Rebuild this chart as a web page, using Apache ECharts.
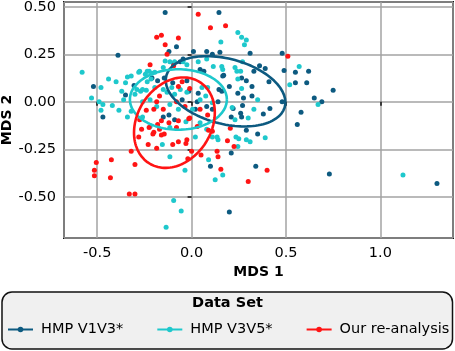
<!DOCTYPE html>
<html><head><meta charset="utf-8">
<script src="https://cdn.jsdelivr.net/npm/echarts@6/dist/echarts.min.js"></script>
<style>html,body{margin:0;padding:0;background:#fff}#c{width:455px;height:351px}</style>
</head><body><div id="c"></div>
<script>
const seriesNames = ['HMP V1V3*', 'HMP V3V5*', 'Our re-analysis'];
const xTicks = [-0.5, 0, 0.5, 1.0];
const yTicks = [-0.5, -0.25, 0, 0.25, 0.5];
const xLabels = ['-0.5', '0.0', '0.5', '1.0'];
const yLabels = ['-0.50', '-0.25', '0.00', '0.25', '0.50'];

const v1v3Points = [
[-0.14,0.47],[0.145,0.47],[-0.39,0.245],[-0.52,0.08],[-0.47,-0.08],[-0.35,0.035],[-0.305,0.085],[-0.21,0.125],
[-0.145,0.125],[-0.10,0.10],[-0.08,0.29],[-0.12,0.265],[0.01,0.265],[0.08,0.265],[0.15,0.26],[-0.045,0.225],
[-0.06,0.21],[-0.095,0.20],[0.045,0.17],[0.065,0.16],[0.17,0.14],[0.145,0.065],[0.16,0.055],[-0.025,0.11],
[0.03,0.0],[0.11,-0.04],[0.22,-0.035],[0.26,-0.06],[0.21,-0.08],[-0.18,0.11],[-0.015,0.055],[0.035,0.045],
[-0.05,0.01],[0.02,-0.04],[0.08,-0.025],[0.14,0.0],[-0.15,-0.08],[-0.12,-0.07],[-0.09,-0.095],[0.20,0.08],
[0.31,0.255],[0.48,0.255],[0.36,0.19],[0.39,0.175],[0.49,0.165],[0.55,0.155],[0.62,0.16],[0.55,0.10],
[0.61,0.10],[0.75,0.06],[0.65,0.02],[0.69,0.0],[0.58,-0.055],[0.56,-0.12],[0.29,0.11],[0.32,0.08],
[0.41,0.105],[0.33,0.16],[0.275,0.02],[0.32,0.03],[0.245,0.045],[0.27,-0.02],[0.265,-0.08],[0.415,-0.035],
[0.38,-0.065],[0.35,-0.17],[0.29,-0.15],[0.21,-0.27],[0.34,-0.34],[0.73,-0.38],[1.30,-0.43],[0.20,-0.58],
[0.10,-0.34],[0.165,0.135],[0.48,0.0],[0.11,0.25],[0.265,0.125]
];
const v3v5Points = [
[-0.58,0.155],[-0.53,0.02],[-0.48,0.075],[-0.44,0.12],[-0.40,0.105],[-0.35,0.10],[-0.34,0.13],[-0.32,0.135],
[-0.28,0.155],[-0.49,0.0],[-0.47,-0.015],[-0.48,-0.045],[-0.42,-0.02],[-0.385,-0.045],[-0.36,0.01],[-0.37,0.055],
[-0.26,0.0],[-0.27,0.055],[-0.24,0.06],[-0.30,0.04],[-0.215,0.12],[-0.225,0.16],[-0.245,0.145],[-0.26,-0.08],
[-0.32,-0.05],[-0.34,-0.08],[0.155,0.315],[0.245,0.365],[0.265,0.34],[0.29,0.325],[0.28,0.30],[0.27,0.21],
[0.23,0.18],[0.165,0.17],[0.24,0.16],[0.26,0.16],[0.245,0.12],[0.265,0.07],[0.35,0.01],[0.33,-0.04],
[0.30,-0.085],[0.215,-0.03],[0.23,-0.095],[0.25,-0.195],[0.29,-0.20],[0.31,-0.21],[0.245,-0.235],[0.39,-0.19],
[0.57,0.185],[0.52,0.09],[0.67,-0.015],[1.12,-0.385],[0.165,-0.385],[-0.155,-0.225],[-0.115,-0.29],[-0.035,-0.36],
[-0.095,-0.52],[-0.055,-0.575],[-0.135,-0.66],[0.02,-0.185],[0.09,-0.305],[0.125,-0.41],[0.11,-0.185],[0.14,-0.20],
[0.235,-0.185],[-0.275,0.16],[-0.235,0.16],[-0.21,0.15],[-0.195,0.155],[-0.15,0.18],[-0.115,0.21],[-0.14,0.215],
[-0.09,0.21],[-0.045,0.21],[-0.025,0.195],[0.035,0.21],[0.08,0.225],[0.115,0.185],[0.16,0.185],[-0.26,0.065],
[-0.29,0.065],[-0.235,0.105],[-0.195,0.075],[-0.15,0.065],[-0.13,0.05],[-0.105,0.075],[-0.09,0.04],[-0.06,0.065],
[-0.025,0.05],[0.055,0.075],[0.085,0.075],[0.075,0.03],[0.045,0.01],[0.11,-0.005],[-0.22,0.01],[-0.185,-0.025],
[-0.115,-0.015],[-0.07,-0.04],[0.005,-0.04],[-0.22,-0.13],[-0.115,-0.135],[-0.03,-0.105],[0.045,-0.11],[0.08,-0.145],
[0.135,-0.185]
];
const reanalysisPoints = [
[0.035,0.46],[0.10,0.39],[0.18,0.40],[-0.185,0.34],[-0.16,0.35],[-0.07,0.335],[-0.14,0.30],[-0.13,0.25],
[-0.22,0.195],[0.51,0.24],[-0.505,-0.32],[-0.515,-0.36],[-0.515,-0.39],[-0.425,-0.305],[-0.43,-0.40],[-0.30,-0.33],
[-0.32,-0.26],[-0.33,-0.485],[-0.30,-0.485],[-0.265,-0.145],[-0.28,-0.185],[-0.23,-0.225],[-0.205,-0.17],[-0.185,-0.245],
[-0.10,-0.225],[-0.07,-0.21],[-0.03,-0.22],[-0.025,-0.20],[0.0,-0.26],[0.05,-0.28],[-0.02,-0.30],[0.135,-0.26],
[0.14,-0.29],[0.155,-0.355],[0.19,-0.205],[0.225,-0.235],[0.205,-0.14],[-0.16,-0.10],[-0.12,-0.11],[-0.07,-0.10],
[-0.015,-0.09],[-0.20,-0.16],[-0.145,-0.17],[-0.17,-0.145],[-0.08,-0.135],[0.03,-0.13],[0.09,-0.15],[0.11,-0.155],
[0.40,-0.36],[0.30,-0.42],[-0.24,-0.045],[-0.20,-0.04],[-0.275,-0.095],[-0.225,-0.135],[-0.15,-0.04],[-0.01,-0.085],
[0.045,-0.04],[0.085,-0.07],[-0.05,0.105],[-0.07,0.08],[-0.01,0.07],[-0.08,0.0],[-0.035,-0.025],[-0.185,0.0],
[-0.17,0.03],[-0.18,-0.12],[-0.16,-0.175],[-0.095,0.19]
];
// ellipse: [centerX, centerY, halfWidthX, halfHeightY, yOffsetAtRightmostPoint]
const v1v3Ellipse = [0.18, 0.055, 0.317, 0.185, -0.058];
const v3v5Ellipse = [-0.07, 0.012, 0.257, 0.159, 0.0];
const reanalysisEllipse = [-0.091, -0.11, 0.214, 0.238, 0.053];

const colors = ['#0d5a80', '#1ec8cc', '#ff1414'];

function ellipsePath(e) {
  const [cx, cy, hx, hy, sh] = e;
  const l22 = Math.sqrt(hy * hy - sh * sh);
  const pts = [];
  for (let i = 0; i <= 120; i++) {
    const t = i / 120 * Math.PI * 2;
    pts.push([cx + hx * Math.cos(t), cy + sh * Math.cos(t) + l22 * Math.sin(t)]);
  }
  return pts;
}
const ellipses = [v1v3Ellipse, v3v5Ellipse, reanalysisEllipse];
const pointSets = [v1v3Points, v3v5Points, reanalysisPoints];

const FONT = 'DejaVu Sans';
const series = [];
seriesNames.forEach((n, i) => {
  series.push({
    name: n, type: 'line', data: ellipsePath(ellipses[i]), showSymbol: false,
    symbol: 'circle', symbolSize: 6, smooth: false, z: 5 + i, silent: true,
    lineStyle: {color: colors[i], width: 2.6}, itemStyle: {color: colors[i]}, animation: false
  });
});
seriesNames.forEach((n, i) => {
  series.push({
    name: n, type: 'scatter', data: pointSets[i], symbolSize: 5, z: 2,
    itemStyle: {color: colors[i], opacity: 1}, animation: false
  });
});

function fmt(ticks, labels) {
  return v => {
    const k = ticks.findIndex(t => Math.abs(t - v) < 1e-9);
    return k >= 0 ? labels[k] : '';
  };
}

const chart = echarts.init(document.getElementById('c'), null, {renderer: 'canvas'});
chart.setOption({
  animation: false,
  textStyle: {fontFamily: FONT},
  grid: {left: 64, right: 2, top: 2, bottom: 113, show: true, borderColor: '#111', borderWidth: 2,
    backgroundColor: 'transparent', containLabel: false, outerBoundsMode: 'none'},
  xAxis: {
    type: 'value', min: -0.676, max: 1.385, minInterval: 0.5, maxInterval: 0.5,
    name: 'MDS 1', nameLocation: 'middle', nameGap: 27, nameMoveOverlap: false,
    nameTextStyle: {fontFamily: FONT, fontWeight: 'bold', fontSize: 14, color: '#000'},
    axisLine: {show: false},
    axisTick: {show: true, length: 4, lineStyle: {color: '#111', width: 1.5}},
    axisLabel: {fontFamily: FONT, fontSize: 14.5, color: '#000', margin: 8, showMinLabel: false, showMaxLabel: false,
      formatter: fmt(xTicks, xLabels)},
    splitLine: {show: true, lineStyle: {color: '#a3a3a3', width: 1.5}}
  },
  yAxis: {
    type: 'value', min: -0.717, max: 0.525, minInterval: 0.25, maxInterval: 0.25,
    name: 'MDS 2', nameLocation: 'middle', nameGap: 50, nameMoveOverlap: false,
    nameTextStyle: {fontFamily: FONT, fontWeight: 'bold', fontSize: 14, color: '#000'},
    axisLine: {show: false},
    axisTick: {show: true, length: 4, lineStyle: {color: '#111', width: 1.5}},
    axisLabel: {fontFamily: FONT, fontSize: 14.5, color: '#000', margin: 8, showMinLabel: false, showMaxLabel: false,
      formatter: fmt(yTicks, yLabels)},
    splitLine: {show: true, lineStyle: {color: '#a3a3a3', width: 1.5}}
  },
  graphic: [{
    type: 'rect', z: -1, shape: {x: 2, y: 292, width: 450.5, height: 57, r: 10},
    style: {fill: '#f0f0f0', stroke: '#111', lineWidth: 1.5}
  }],
  title: {text: 'Data Set', left: 'center', top: 296, padding: 0,
    textStyle: {fontFamily: FONT, fontWeight: 'bold', fontSize: 14.5, color: '#000'}},
  legend: {
    data: seriesNames, left: 7, top: 322, padding: 0, itemGap: 33, itemWidth: 25, itemHeight: 7,
    textStyle: {fontFamily: FONT, fontSize: 14.5, color: '#000', padding: [0, 0, 0, 3]},
    selectedMode: false
  },
  series: series
});
</script></body></html>
